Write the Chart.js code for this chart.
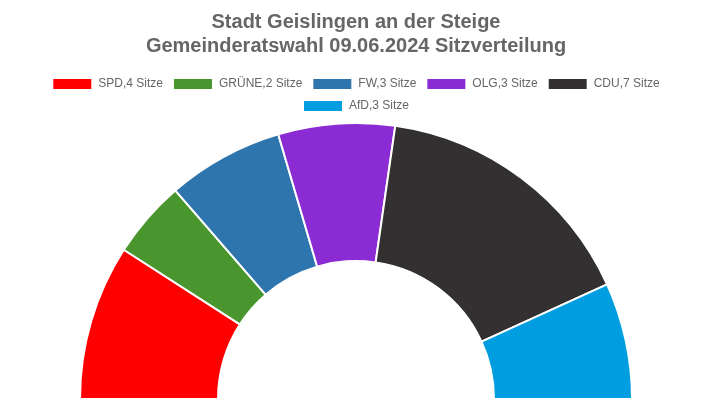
<!DOCTYPE html>
<html>
<head>
<meta charset="utf-8">
<script src="https://cdn.jsdelivr.net/npm/chart.js@4"></script>
<style>
  html, body { margin: 0; padding: 0; background: #fff; }
  #wrap { width: 712px; height: 400px; }
</style>
</head>
<body>
<div id="wrap"><canvas id="chart"></canvas></div>
<script>
const parties = ['SPD', 'GRÜNE', 'FW', 'OLG', 'CDU', 'AfD'];
const seats = [4, 2, 3, 3, 7, 3];
const colors = ['#ff0000', '#4a962e', '#2e75ae', '#8b2bd3', '#323030', '#009ee0'];
const labels = parties.map((p, i) => p + ',' + seats[i] + ' Sitze');

document.addEventListener('DOMContentLoaded', () => {
    const data = {
        labels: labels,
        datasets: [{
            data: seats,
            backgroundColor: colors,
            borderColor: '#ffffff',
            borderWidth: 2
        }]
    };

    const config = {
        type: 'doughnut',
        data: data,
        options: {
            responsive: true,
            maintainAspectRatio: false,
            animation: false,
            rotation: -90,
            circumference: 180,
            cutout: '50%',
            layout: { padding: 0 },
            plugins: {
                title: {
                    display: true,
                    text: ['Stadt Geislingen an der Steige', 'Gemeinderatswahl 09.06.2024 Sitzverteilung'],
                    color: '#666666',
                    font: { family: 'Liberation Sans', size: 20, weight: 'bold', lineHeight: 1.2 },
                    padding: { top: 10, bottom: 10 }
                },
                legend: {
                    position: 'top',
                    labels: {
                        color: '#666666',
                        boxWidth: 40,
                        padding: 10,
                        font: { family: 'Liberation Sans', size: 12 }
                    }
                },
                tooltip: { enabled: false }
            }
        }
    };

    const ctx = document.getElementById('chart').getContext('2d');
    new Chart(ctx, config);
});
</script>
</body>
</html>
